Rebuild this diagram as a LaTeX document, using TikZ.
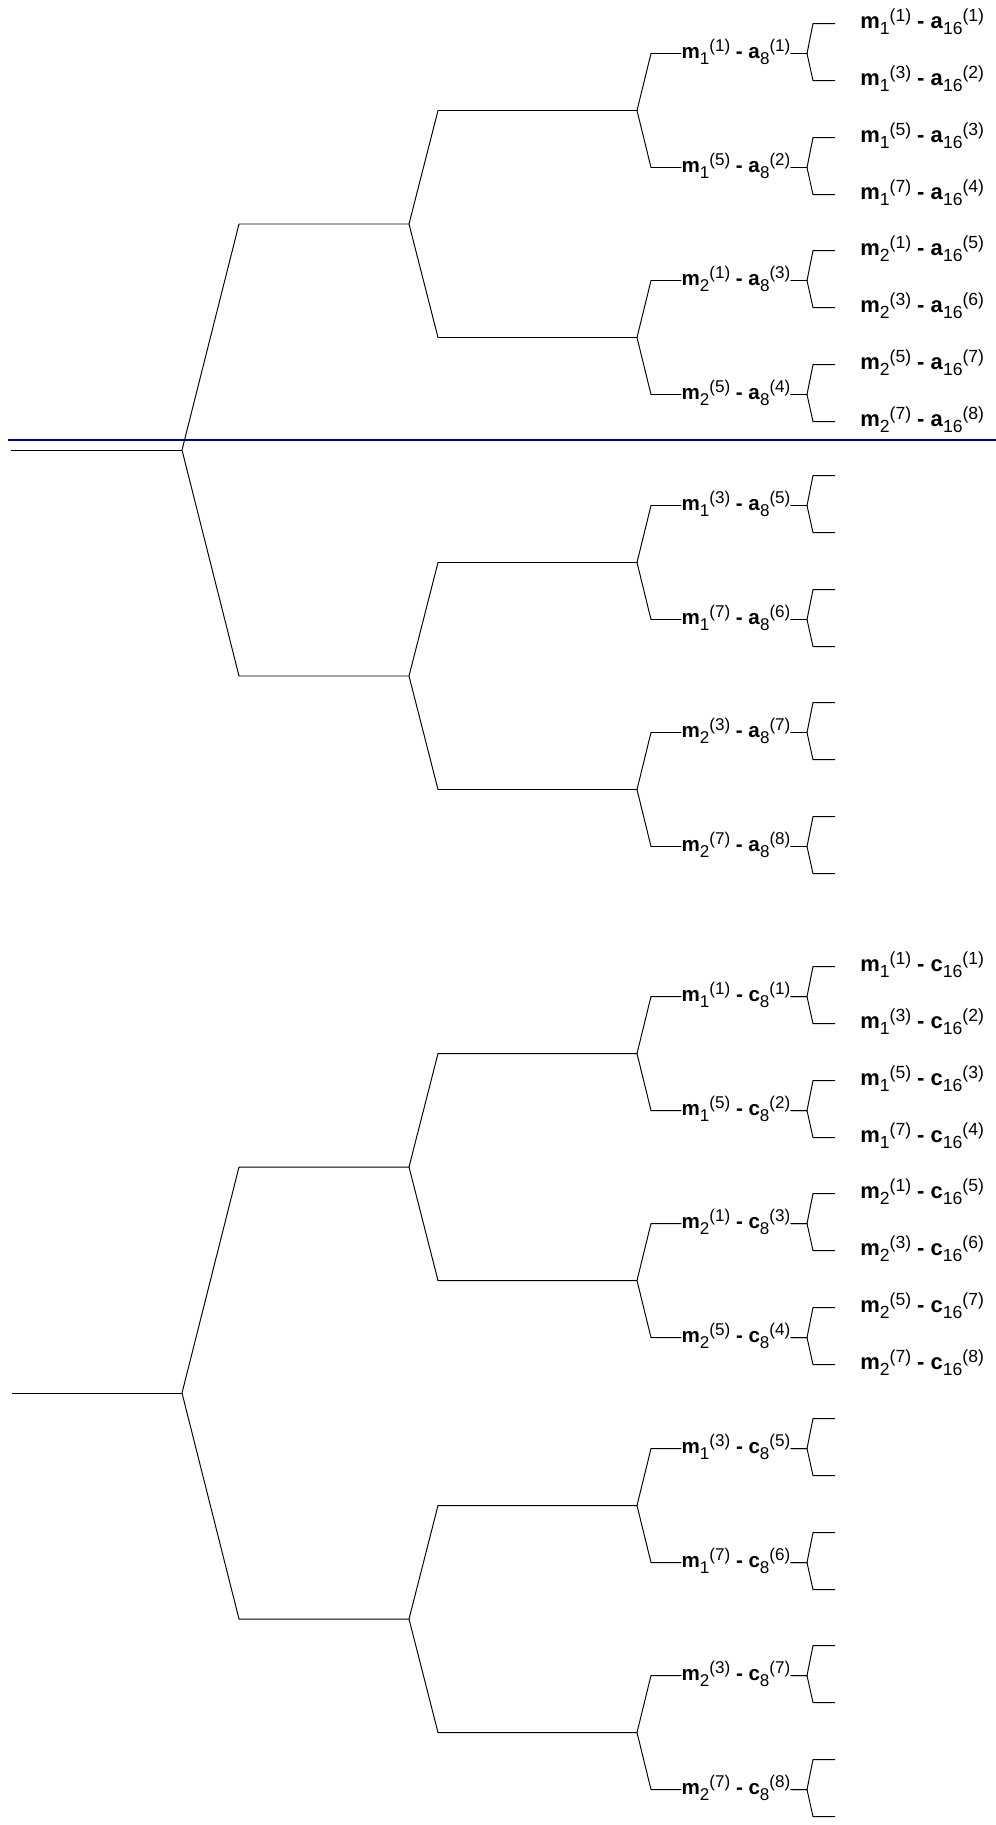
\documentclass[tikz,border=0pt]{standalone}
\usepackage{fontspec}
\setmainfont{Liberation Sans}
\usepackage{xcolor}
\usetikzlibrary{calc}

\definecolor{sepblue}{RGB}{0,0,128}

\newcommand{\subpt}{9.7pt}
\newcommand{\lo}[1]{\raisebox{-0.3em}{\fontsize{\subpt}{\subpt}\selectfont #1}}
\newcommand{\hi}[1]{\raisebox{0.3em}{\fontsize{\subpt}{\subpt}\selectfont #1}}
\newcommand{\pr}[5]{\textbf{m}\lo{#1}\hi{(#2)} \textbf{-} \textbf{#3}\lo{#4}\hi{(#5)}}

% children of one root, #1 = a or c
\newcommand{\pairtree}[1]{
	child{node[coordinate]{}
		child{node[coordinate]{}
			child{node[pairlab]{\pr{1}{1}{#1}{8}{1}}
				child{node[leaf]{\pr{1}{1}{#1}{16}{1}}}
				child{node[leaf]{\pr{1}{3}{#1}{16}{2}}}
			}
			child{node[pairlab]{\pr{1}{5}{#1}{8}{2}}
				child{node[leaf]{\pr{1}{5}{#1}{16}{3}}}
				child{node[leaf]{\pr{1}{7}{#1}{16}{4}}}
			}
		}
		child{node[coordinate]{}
			child{node[pairlab]{\pr{2}{1}{#1}{8}{3}}
				child{node[leaf]{\pr{2}{1}{#1}{16}{5}}}
				child{node[leaf]{\pr{2}{3}{#1}{16}{6}}}
			}
			child{node[pairlab]{\pr{2}{5}{#1}{8}{4}}
				child{node[leaf]{\pr{2}{5}{#1}{16}{7}}}
				child{node[leaf]{\pr{2}{7}{#1}{16}{8}}}
			}
		}
	}
	child{node[coordinate]{}
		child{node[coordinate]{}
			child{node[pairlab]{\pr{1}{3}{#1}{8}{5}} child{node[leaf]{}} child{node[leaf]{}}}
			child{node[pairlab]{\pr{1}{7}{#1}{8}{6}} child{node[leaf]{}} child{node[leaf]{}}}
		}
		child{node[coordinate]{}
			child{node[pairlab]{\pr{2}{3}{#1}{8}{7}} child{node[leaf]{}} child{node[leaf]{}}}
			child{node[pairlab]{\pr{2}{7}{#1}{8}{8}} child{node[leaf]{}} child{node[leaf]{}}}
		}
	}
}

\begin{document}
\begin{tikzpicture}[grow'=right,
	edge from parent/.style={draw, line width=0.55pt},
	pairlab/.style={anchor=mid, inner sep=0pt, font=\fontsize{11.7pt}{14pt}\selectfont},
	leaf/.style={anchor=mid west, inner sep=0pt, font=\fontsize{12.5pt}{15pt}\selectfont\def\subpt{10pt}},
	sepline/.style={sepblue, line width=1.1pt}]
	\tikzstyle{level 1}=[level distance=4.54cm, sibling distance=9.04cm,
		edge from parent path={(\tikzparentnode) -- ($(\tikzparentnode |- \tikzchildnode)+(1.14,0)$) -- (\tikzchildnode)}]
	\tikzstyle{level 2}=[level distance=4.56cm, sibling distance=4.54cm,
		edge from parent path={(\tikzparentnode) -- ($(\tikzparentnode |- \tikzchildnode)+(0.58,0)$) -- (\tikzchildnode)}]
	\tikzstyle{level 3}=[level distance=1.98cm, sibling distance=2.28cm,
		edge from parent path={(\tikzparentnode) -- ($(\tikzparentnode |- \tikzchildnode.mid)+(0.28,0)$) -- (\tikzchildnode.mid west)}]
	\tikzstyle{level 4}=[level distance=2.48cm, sibling distance=1.14cm,
		edge from parent path={(\tikzparentnode.mid east) -- ($(\tikzparentnode.mid -| \tikzchildnode.mid west)+(-1.06,0)$) -- ($(\tikzchildnode.mid west)+(-0.94,0)$) -- ($(\tikzchildnode.mid west)+(-0.5,0)$)}]
	
	\useasboundingbox (0,0) rectangle (19.92,-36.5);
	
	\node[coordinate] (ra) at (3.64,-9) {} \pairtree{a};
	\node[coordinate] (rc) at (3.64,-27.86) {} \pairtree{c};
	
	\coordinate (ina) at (0.22,-9);
	\coordinate (inc) at (0.24,-27.86);
	\draw[line width=0.55pt] (ina) -- (ra);
	\draw[line width=0.55pt] (inc) -- (rc);
	
	% separator
	\coordinate (sl) at (0.16,-8.8);
	\coordinate (sr) at (19.92,-8.8);
	\draw[sepline] (sl) -- (sr);
\end{tikzpicture}
\end{document}
